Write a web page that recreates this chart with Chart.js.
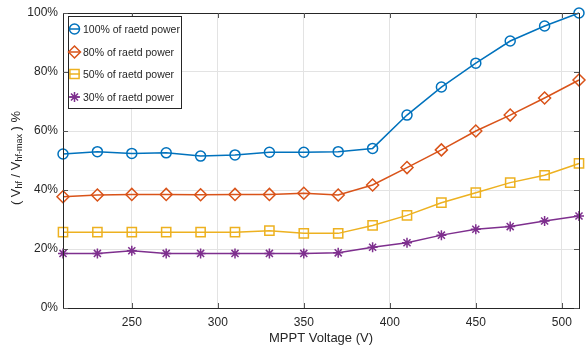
<!DOCTYPE html>
<html>
<head>
<meta charset="utf-8">
<script src="https://cdn.jsdelivr.net/npm/chart.js@4.4.1/dist/chart.umd.min.js"></script>
<style>
  html, body { margin: 0; padding: 0; background: #fff; }
  #wrap { width: 587px; height: 345px; }
</style>
</head>
<body>
<div id="wrap"><canvas id="lineChart" width="587" height="345"></canvas></div>
<script>
// MPPT voltage sweep, 4 power levels
const voltages = [210, 230, 250, 270, 290, 310, 330, 350, 370, 390, 410, 430, 450, 470, 490, 510];
const p100 = [52.2, 53.0, 52.4, 52.6, 51.5, 51.9, 52.8, 52.8, 53.0, 54.1, 65.4, 74.9, 83.0, 90.5, 95.6, 100];
const p80 = [37.7, 38.3, 38.5, 38.5, 38.4, 38.5, 38.5, 38.9, 38.3, 41.7, 47.6, 53.6, 60.0, 65.4, 71.2, 77.3];
const p50 = [25.7, 25.7, 25.7, 25.7, 25.7, 25.7, 26.2, 25.3, 25.3, 28.0, 31.4, 35.7, 39.1, 42.5, 45.0, 49.0];
const p30 = [18.5, 18.5, 19.4, 18.5, 18.5, 18.5, 18.5, 18.5, 18.7, 20.6, 22.1, 24.7, 26.7, 27.6, 29.5, 31.2];
const seriesNames = ['100% of raetd power', '80% of raetd power', '50% of raetd power', '30% of raetd power'];
const xTicks = [250, 300, 350, 400, 450, 500];
const yTicks = [0, 20, 40, 60, 80, 100];

const colors = ['#0072BD', '#D95319', '#EDB120', '#7E2F8E'];
const markers = ['circle', 'rectRot', 'rect', 'star'];
const radii = [5, 6, 6.5, 5];
const FONT = '"Liberation Sans", Arial, sans-serif';
const AXIS = '#262626';

function toXY(vals) {
  return vals.map((v, i) => ({ x: voltages[i], y: v }));
}

const allSeries = [p100, p80, p50, p30];
const datasets = allSeries.map((vals, i) => ({
  label: seriesNames[i],
  data: toXY(vals),
  borderColor: colors[i],
  backgroundColor: 'rgba(0,0,0,0)',
  borderWidth: 1.5,
  pointStyle: markers[i],
  pointRadius: radii[i],
  pointBorderWidth: 1.5,
  pointBorderColor: colors[i],
  pointBackgroundColor: 'rgba(0,0,0,0)',
  tension: 0,
  clip: false
}));

// frame, inward ticks, axis titles and the legend box
const decor = {
  id: 'decor',
  afterDraw(chart) {
    const ctx = chart.ctx;
    const a = chart.chartArea;
    const xs = chart.scales.x, ys = chart.scales.y;
    ctx.save();
    ctx.strokeStyle = AXIS;
    ctx.lineWidth = 1;
    ctx.strokeRect(a.left + 0.5, a.top + 0.5, a.right - a.left, a.bottom - a.top);
    ctx.strokeStyle = '#555';
    xTicks.forEach(t => {
      const px = Math.round(xs.getPixelForValue(t)) + 0.5;
      ctx.beginPath();
      ctx.moveTo(px, a.bottom); ctx.lineTo(px, a.bottom - 5);
      ctx.moveTo(px, a.top); ctx.lineTo(px, a.top + 5);
      ctx.stroke();
    });
    yTicks.forEach(t => {
      const py = Math.round(ys.getPixelForValue(t)) + 0.5;
      ctx.beginPath();
      ctx.moveTo(a.left, py); ctx.lineTo(a.left + 5, py);
      ctx.moveTo(a.right, py); ctx.lineTo(a.right - 5, py);
      ctx.stroke();
    });

    // x title
    ctx.fillStyle = AXIS;
    ctx.font = '13px ' + FONT;
    ctx.textAlign = 'center';
    ctx.textBaseline = 'middle';
    ctx.fillText('MPPT Voltage (V)', (a.left + a.right) / 2, 338);

    // y title with subscripts
    ctx.save();
    ctx.translate(16, 158);
    ctx.rotate(-Math.PI / 2);
    const parts = [
      ['( V', 13, 0], ['hf', 9, 4], [' / V', 13, 0], ['hf-max', 9, 4], [' ) %', 13, 0]
    ];
    let total = 0;
    parts.forEach(p => { ctx.font = p[1] + 'px ' + FONT; total += ctx.measureText(p[0]).width; });
    let cx = -total / 2;
    ctx.textAlign = 'left';
    parts.forEach(p => {
      ctx.font = p[1] + 'px ' + FONT;
      ctx.fillText(p[0], cx, p[2]);
      cx += ctx.measureText(p[0]).width;
    });
    ctx.restore();

    // legend
    const lx = 68, ly = 16, lw = 113, lh = 92;
    ctx.fillStyle = '#fff';
    ctx.fillRect(lx, ly, lw, lh);
    ctx.strokeStyle = AXIS;
    ctx.lineWidth = 1;
    ctx.strokeRect(lx + 0.5, ly + 0.5, lw, lh);
    const rows = [29, 52, 74, 97];
    ctx.font = '10.5px ' + FONT;
    ctx.textAlign = 'left';
    seriesNames.forEach((name, i) => {
      const y = rows[i];
      ctx.strokeStyle = colors[i];
      ctx.lineWidth = 1.5;
      ctx.beginPath();
      ctx.moveTo(69, y); ctx.lineTo(80, y);
      ctx.stroke();
      ctx.fillStyle = 'rgba(0,0,0,0)';
      Chart.helpers.drawPoint(ctx, {
        pointStyle: markers[i],
        radius: radii[i],
        borderWidth: 1.5
      }, 74.5, y);
      ctx.fillStyle = AXIS;
      ctx.fillText(name, 83, y + 1);
    });
    ctx.restore();
  }
};

const ctx = document.getElementById('lineChart').getContext('2d');
const lineChart = new Chart(ctx, {
  type: 'line',
  data: { datasets: datasets },
  options: {
    responsive: false,
    animation: false,
    layout: { padding: { top: 13, right: 5, left: 0, bottom: 0 } },
    plugins: { legend: { display: false }, tooltip: { enabled: false } },
    scales: {
      x: {
        type: 'linear',
        min: 210,
        max: 510,
        afterBuildTicks: s => { s.ticks = xTicks.map(v => ({ value: v })); },
        afterFit: s => { s.height = 37; },
        grid: { color: '#e3e3e3', drawTicks: false },
        border: { display: false },
        ticks: { color: AXIS, font: { family: FONT, size: 12 }, padding: 7, maxRotation: 0 }
      },
      y: {
        min: 0,
        max: 100,
        afterBuildTicks: s => { s.ticks = yTicks.map(v => ({ value: v })); },
        afterFit: s => { s.width = 63; },
        grid: { color: '#e3e3e3', drawTicks: false },
        border: { display: false },
        ticks: { color: AXIS, font: { family: FONT, size: 12 }, padding: 5, callback: v => v + '%' }
      }
    }
  },
  plugins: [decor]
});
</script>
</body>
</html>
